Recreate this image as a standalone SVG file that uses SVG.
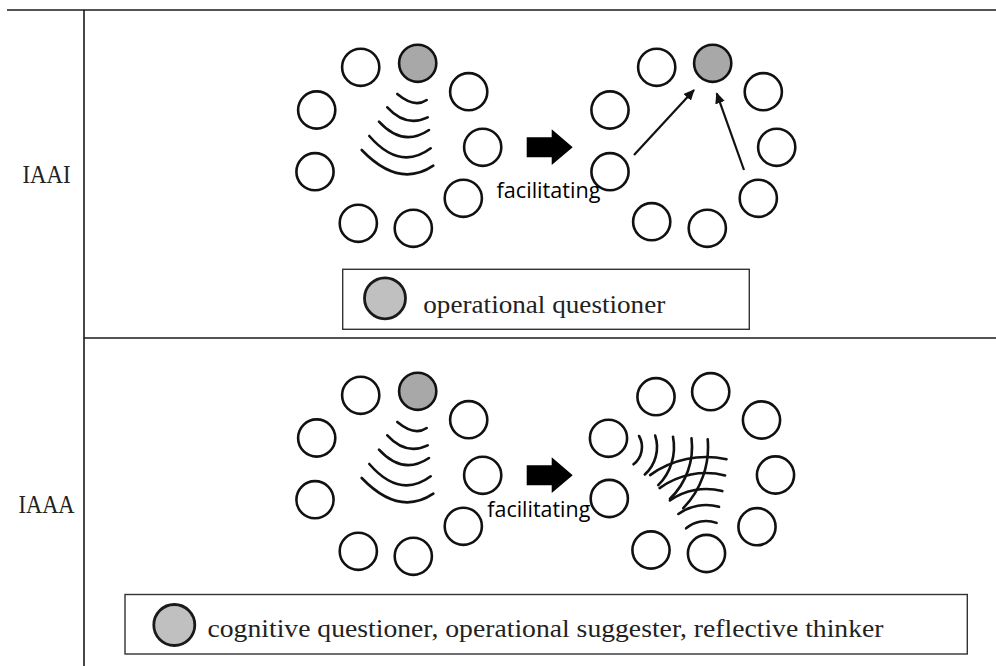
<svg xmlns="http://www.w3.org/2000/svg" width="996" height="666" viewBox="0 0 996 666">
  <style>
    .rule { stroke: #1a1a1a; stroke-width: 1.6; fill: none; }
    .p { fill: #ffffff; stroke: #111111; stroke-width: 2.6; }
    .q { fill: #a8a8a8; stroke: #111111; stroke-width: 2.6; }
    .wave { fill: none; stroke: #111111; stroke-width: 2.6; stroke-linecap: round; }
    .lbl { font-size: 25px; fill: #222222; }
    .keytxt { font-size: 26px; fill: #222222; }
    .fac { font-size: 21px; fill: #000000; }
    .key { fill: #ffffff; stroke: #333333; stroke-width: 1.4; }
    .keydot { fill: #c0c0c0; stroke: #1a1a1a; stroke-width: 2.8; }
    .link { stroke: #111111; stroke-width: 2.2; fill: none; }
  </style>
  <defs>
    <marker id="tip" markerUnits="userSpaceOnUse" markerWidth="12" markerHeight="10" refX="10" refY="5" orient="auto">
      <path d="M0,0 L11,5 L0,10 Z" fill="#111111"/>
    </marker>
    <!-- block arrow between the two circles of a row -->
    <path id="blockArrow" d="M526.7,137.3 H551.7 V129.3 L572.7,147.3 L551.7,165 V157.3 H526.7 Z" fill="#000000"/>
    <!-- wave fan spreading from the top circle -->
    <g id="fan">
      <path class="wave" d="M397.3,94 Q414.6,108.4 426.7,100"/>
      <path class="wave" d="M387.3,107.3 Q405.9,127.7 427.7,117.3"/>
      <path class="wave" d="M379,121.7 Q402.6,147.6 429,130"/>
      <path class="wave" d="M369.3,136 Q400,171.3 430.7,148.3"/>
      <path class="wave" d="M361.7,150 Q399.1,188.8 433.3,165.7"/>
    </g>
  </defs>

  <!-- table rules -->
  <g id="table">
    <line class="rule" x1="7" y1="10" x2="996" y2="10"/>
    <line class="rule" x1="84" y1="10" x2="84" y2="666"/>
    <line class="rule" x1="84" y1="338" x2="996" y2="338"/>
  </g>

  <!-- row labels -->
  <text id="label-iaai" class="lbl" font-family="Liberation Serif, Times New Roman, serif" x="22.5" y="182.5" textLength="48" lengthAdjust="spacingAndGlyphs">IAAI</text>
  <text id="label-iaaa" class="lbl" font-family="Liberation Serif, Times New Roman, serif" x="18.5" y="512.5" textLength="56" lengthAdjust="spacingAndGlyphs">IAAA</text>

  <!-- row 1, before -->
  <g id="group-iaai-before">
    <circle class="q" cx="417.7" cy="63.3" r="18.6"/>
    <circle class="p" cx="360.7" cy="67.3" r="18.6"/>
    <circle class="p" cx="316.7" cy="110" r="18.6"/>
    <circle class="p" cx="315" cy="171.7" r="18.6"/>
    <circle class="p" cx="358.3" cy="223.3" r="18.6"/>
    <circle class="p" cx="413.3" cy="228.3" r="18.6"/>
    <circle class="p" cx="463.3" cy="198.3" r="18.6"/>
    <circle class="p" cx="482.7" cy="147.3" r="18.6"/>
    <circle class="p" cx="468.7" cy="91.7" r="18.6"/>
    <use href="#fan"/>
  </g>

  <!-- row 1, after -->
  <g id="group-iaai-after">
    <circle class="q" cx="712.7" cy="63.3" r="18.6"/>
    <circle class="p" cx="656.7" cy="67.3" r="18.6"/>
    <circle class="p" cx="610" cy="110" r="18.6"/>
    <circle class="p" cx="610" cy="171.7" r="18.6"/>
    <circle class="p" cx="651.7" cy="221.7" r="18.6"/>
    <circle class="p" cx="707.3" cy="228.3" r="18.6"/>
    <circle class="p" cx="758.3" cy="198.3" r="18.6"/>
    <circle class="p" cx="776.7" cy="147.3" r="18.6"/>
    <circle class="p" cx="763.3" cy="91.7" r="18.6"/>
  </g>

  <!-- row 2, before -->
  <g id="group-iaaa-before" transform="translate(0,328)">
    <circle class="q" cx="417.7" cy="63.3" r="18.6"/>
    <circle class="p" cx="360.7" cy="67.3" r="18.6"/>
    <circle class="p" cx="316.7" cy="110" r="18.6"/>
    <circle class="p" cx="315" cy="171.7" r="18.6"/>
    <circle class="p" cx="358.3" cy="223.3" r="18.6"/>
    <circle class="p" cx="413.3" cy="228.3" r="18.6"/>
    <circle class="p" cx="463.3" cy="198.3" r="18.6"/>
    <circle class="p" cx="482.7" cy="147.3" r="18.6"/>
    <circle class="p" cx="468.7" cy="91.7" r="18.6"/>
    <use href="#fan"/>
  </g>

  <!-- row 2, after: crossing waves -->
  <g id="group-iaaa-after">
    <circle class="p" cx="656" cy="396.7" r="18.6"/>
    <circle class="p" cx="710.7" cy="391.7" r="18.6"/>
    <circle class="p" cx="761.5" cy="420" r="18.6"/>
    <circle class="p" cx="775.5" cy="475" r="18.6"/>
    <circle class="p" cx="757" cy="526.7" r="18.6"/>
    <circle class="p" cx="706.5" cy="553.5" r="18.6"/>
    <circle class="p" cx="651" cy="550" r="18.6"/>
    <circle class="p" cx="609.3" cy="498.5" r="18.6"/>
    <circle class="p" cx="608.5" cy="438.3" r="18.6"/>
    <g id="waves-side">
      <path class="wave" d="M639.05,436 A22,22 0 0 1 633.5,464.3"/>
      <path class="wave" d="M655.2,435.6 A37,37 0 0 1 644.8,474.5"/>
      <path class="wave" d="M673,436.7 A54,54 0 0 1 658.2,485.2"/>
      <path class="wave" d="M691.5,438.2 A72,72 0 0 1 670,498.8"/>
      <path class="wave" d="M707.7,439.3 A88,88 0 0 1 683.3,508.2"/>
    </g>
    <g id="waves-low">
      <path class="wave" d="M686.1,528.3 A31,31 0 0 1 716.6,522.9"/>
      <path class="wave" d="M678.4,514 A47,47 0 0 1 719,506.8"/>
      <path class="wave" d="M669.9,500.4 A63,63 0 0 1 722.3,491.1"/>
      <path class="wave" d="M659.6,488.1 A79,79 0 0 1 725.1,475.4"/>
      <path class="wave" d="M650.1,475.1 A95,95 0 0 1 726.5,459.3"/>
    </g>
  </g>

  <!-- connectors -->
  <g id="connectors">
    <use href="#blockArrow"/>
    <use href="#blockArrow" transform="translate(0,328)"/>
    <line class="link" x1="634" y1="155" x2="694" y2="90" marker-end="url(#tip)"/>
    <line class="link" x1="744" y1="170" x2="716.7" y2="93.3" marker-end="url(#tip)"/>
  </g>

  <text id="fac-1" class="fac" font-family="Open Sans, Noto Sans, DejaVu Sans, sans-serif" x="496.5" y="198.3" textLength="104" lengthAdjust="spacingAndGlyphs">facilitating</text>
  <text id="fac-2" class="fac" font-family="Open Sans, Noto Sans, DejaVu Sans, sans-serif" x="487.3" y="516.7" textLength="103" lengthAdjust="spacingAndGlyphs">facilitating</text>

  <!-- keys -->
  <g id="key-1">
    <rect class="key" x="342.7" y="269.3" width="406.6" height="60"/>
    <circle class="keydot" cx="385" cy="298.3" r="20.5"/>
    <text class="keytxt" font-family="Liberation Serif, Times New Roman, serif" x="423.3" y="313" textLength="242" lengthAdjust="spacingAndGlyphs">operational questioner</text>
  </g>
  <g id="key-2">
    <rect class="key" x="125" y="594.5" width="842.3" height="59.5"/>
    <circle class="keydot" cx="174.3" cy="625" r="20.5"/>
    <text class="keytxt" font-family="Liberation Serif, Times New Roman, serif" x="207.5" y="637" textLength="676" lengthAdjust="spacingAndGlyphs">cognitive questioner, operational suggester, reflective thinker</text>
  </g>
</svg>
